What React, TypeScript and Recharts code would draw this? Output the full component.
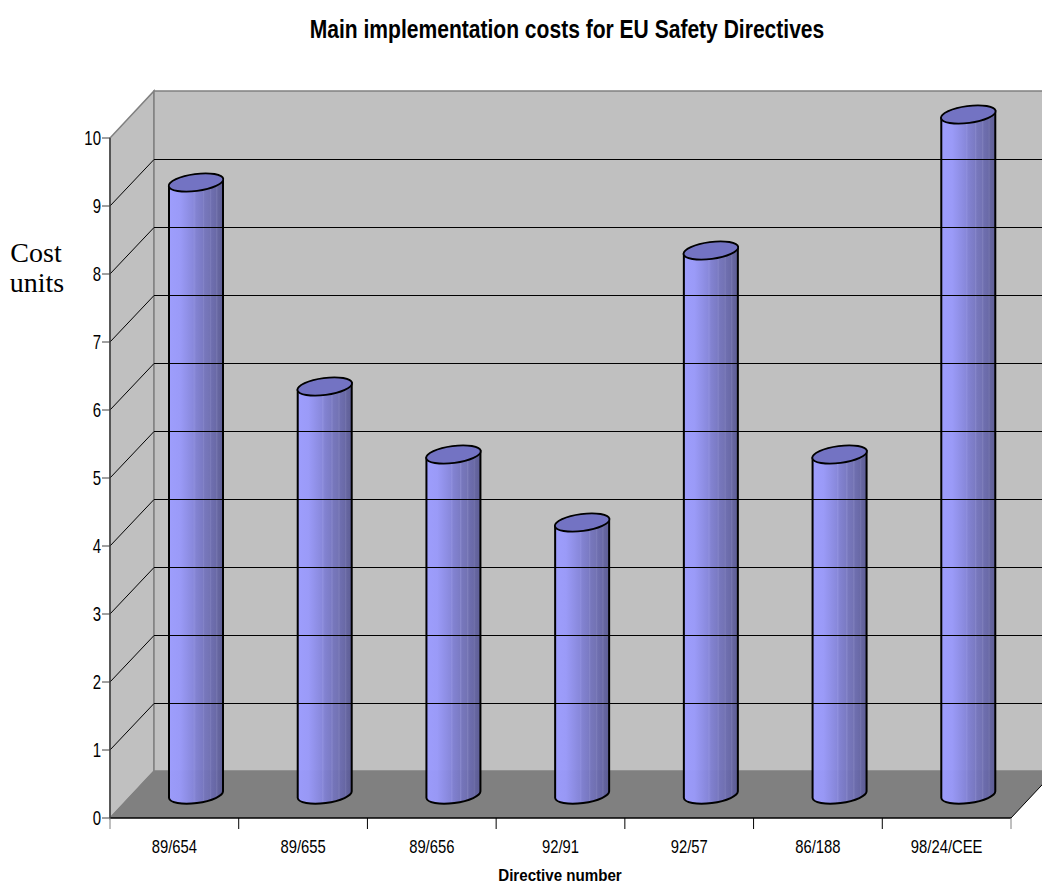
import { BarChart, Bar, XAxis, YAxis, ReferenceArea, ReferenceLine } from 'recharts';

const directives = ['89/654', '89/655', '89/656', '92/91', '92/57', '86/188', '98/24/CEE'];
const costs = [9, 6, 5, 4, 8, 5, 10];
const costTicks = [0, 1, 2, 3, 4, 5, 6, 7, 8, 9, 10];
const gridLevels = [1, 2, 3, 4, 5, 6, 7, 8, 9];

const rows = directives.map((name, i) => ({ name, cost: costs[i] }));

const CHART_W = 1042;
const CHART_H = 884;
const X_AXIS_H = 66;
const Y_AXIS_W = 50;
const margin = { top: 138, right: 31, bottom: 0, left: 60 };
const BAND = (CHART_W - margin.left - Y_AXIS_W - margin.right) / directives.length;

// fake 3D depth of the box, in px
const DEPTH_X = 44;
const DEPTH_Y = 47;
const SANS = '"Liberation Sans", Arial, sans-serif';

// no narrow face installed, so squeeze the regular one
const NarrowText = ({ x, y, squeeze, size, bold, anchor = 'middle', children }: any) => (
  <text
    transform={`translate(${x} ${y}) scale(${squeeze} 1)`}
    textAnchor={anchor}
    fontFamily={SANS}
    fontSize={size}
    fontWeight={bold ? 'bold' : 'normal'}
    fill="#000"
  >
    {children}
  </text>
);

const Walls = ({ x, y, width, height }: any) => {
  const bottom = y + height;
  const right = x + width;
  return (
    <g>
      <polygon
        points={`${x},${bottom} ${x},${y} ${x + DEPTH_X},${y - DEPTH_Y} ${x + DEPTH_X},${bottom - DEPTH_Y}`}
        fill="#c0c0c0"
        stroke="#808080"
        strokeWidth={1.5}
      />
      <rect
        x={x + DEPTH_X}
        y={y - DEPTH_Y}
        width={width}
        height={height}
        fill="#c0c0c0"
        stroke="#808080"
        strokeWidth={1.5}
      />
      <polygon
        points={`${x},${bottom} ${right},${bottom} ${right + DEPTH_X},${bottom - DEPTH_Y} ${x + DEPTH_X},${bottom - DEPTH_Y}`}
        fill="#808080"
      />
      <line x1={right} y1={bottom} x2={right + DEPTH_X} y2={bottom - DEPTH_Y} stroke="#000" strokeWidth={1} />
      <line x1={x} y1={bottom} x2={x + DEPTH_X} y2={bottom - DEPTH_Y} stroke="#808080" strokeWidth={1} />
    </g>
  );
};

// half-pixel shift keeps the wall segment one crisp row of pixels
const GridLine = (props: any) => {
  const { x1, y1, x2, y2 } = props;
  const backY1 = y1 - DEPTH_Y + 0.5;
  const backY2 = y2 - DEPTH_Y + 0.5;
  return (
    <polyline
      points={`${x1},${y1} ${x1 + DEPTH_X},${backY1} ${x2 + DEPTH_X},${backY2}`}
      fill="none"
      stroke="#000"
      strokeWidth={1}
    />
  );
};

// one cylinder, pushed halfway into the box
const Cylinder = ({ x, y, width, height }: any) => {
  const rx = width / 2;
  const cx = x + rx + DEPTH_X / 2;
  const top = y - DEPTH_Y / 2;
  const bot = y + height - DEPTH_Y / 2;
  const tilt = 3.5;
  const body = `M${cx - rx},${top + tilt} L${cx - rx},${bot + tilt} A${rx} 8.5 -7.5 0 0 ${cx + rx},${bot - tilt} L${cx + rx},${top - tilt} Z`;
  return (
    <g>
      <path d={body} fill="url(#cylinderShade)" fillOpacity={0.96} stroke="#000" strokeWidth={2} />
      <ellipse
        cx={cx}
        cy={top}
        rx={rx + 0.5}
        ry={8.5}
        transform={`rotate(-7.5 ${cx} ${top})`}
        fill="#7373c3"
        stroke="#000"
        strokeWidth={1.8}
      />
    </g>
  );
};

const CategoryTick = ({ x, payload, index }: any) => {
  const left = x - BAND / 2;
  const right = x + BAND / 2;
  const last = index === directives.length - 1;
  return (
    <g>
      <line x1={left} y1={818} x2={left} y2={829} stroke={index === 0 ? '#808080' : '#000'} strokeWidth={1} />
      {last && <line x1={right} y1={818} x2={right} y2={829} stroke="#808080" strokeWidth={1} />}
      <NarrowText x={x} y={853} squeeze={0.8} size={18.5}>
        {payload.value}
      </NarrowText>
    </g>
  );
};

const CostTick = ({ x, y, payload }: any) => (
  <NarrowText x={x + 1} y={y + 7} squeeze={0.75} size={20} anchor="end">
    {payload.value}
  </NarrowText>
);

export default function App() {
  return (
    <div style={{ position: 'absolute', left: 0, top: 0, width: CHART_W, height: CHART_H, background: '#fff' }}>
      <BarChart width={CHART_W} height={CHART_H} data={rows} margin={margin} barSize={54}>
        <defs>
          <linearGradient id="cylinderShade" x1="0" y1="0" x2="1" y2="0">
            <stop offset="0" stopColor="#9c9cff" />
            <stop offset="0.2" stopColor="#9999fa" />
            <stop offset="0.45" stopColor="#8686dc" />
            <stop offset="0.46" stopColor="#8e8ee0" />
            <stop offset="0.5" stopColor="#8080d2" />
            <stop offset="0.62" stopColor="#7878c4" />
            <stop offset="0.63" stopColor="#8585cc" />
            <stop offset="0.66" stopColor="#7474bc" />
            <stop offset="0.75" stopColor="#7070b4" />
            <stop offset="0.76" stopColor="#7c7cbc" />
            <stop offset="0.79" stopColor="#6b6bae" />
            <stop offset="0.87" stopColor="#6666a6" />
            <stop offset="0.88" stopColor="#7272ae" />
            <stop offset="0.91" stopColor="#62629e" />
            <stop offset="1" stopColor="#5a5a94" />
          </linearGradient>
        </defs>
        <NarrowText x={567} y={38} squeeze={0.81} size={26} bold>
          Main implementation costs for EU Safety Directives
        </NarrowText>
        <NarrowText x={560} y={881} squeeze={0.89} size={17} bold>
          Directive number
        </NarrowText>
        <text fontFamily='"Liberation Serif", serif' fontSize={28} fill="#000" textAnchor="middle">
          <tspan x={36} y={262}>Cost</tspan>
          <tspan x={37} y={292}>units</tspan>
        </text>
        <ReferenceArea y1={0} y2={10} shape={<Walls />} ifOverflow="visible" />
        {gridLevels.map((v) => (
          <ReferenceLine key={v} y={v} shape={<GridLine />} ifOverflow="visible" />
        ))}
        <XAxis
          dataKey="name"
          height={X_AXIS_H}
          axisLine={{ stroke: '#000', strokeWidth: 1.5 }}
          tickLine={false}
          tick={<CategoryTick />}
          interval={0}
        />
        <YAxis
          width={Y_AXIS_W}
          domain={[0, 10]}
          ticks={costTicks}
          interval={0}
          axisLine={{ stroke: '#404040', strokeWidth: 1.5 }}
          tickLine={{ stroke: '#404040' }}
          tickSize={8}
          tick={<CostTick />}
        />
        <Bar dataKey="cost" isAnimationActive={false} shape={<Cylinder />} />
      </BarChart>
    </div>
  );
}
